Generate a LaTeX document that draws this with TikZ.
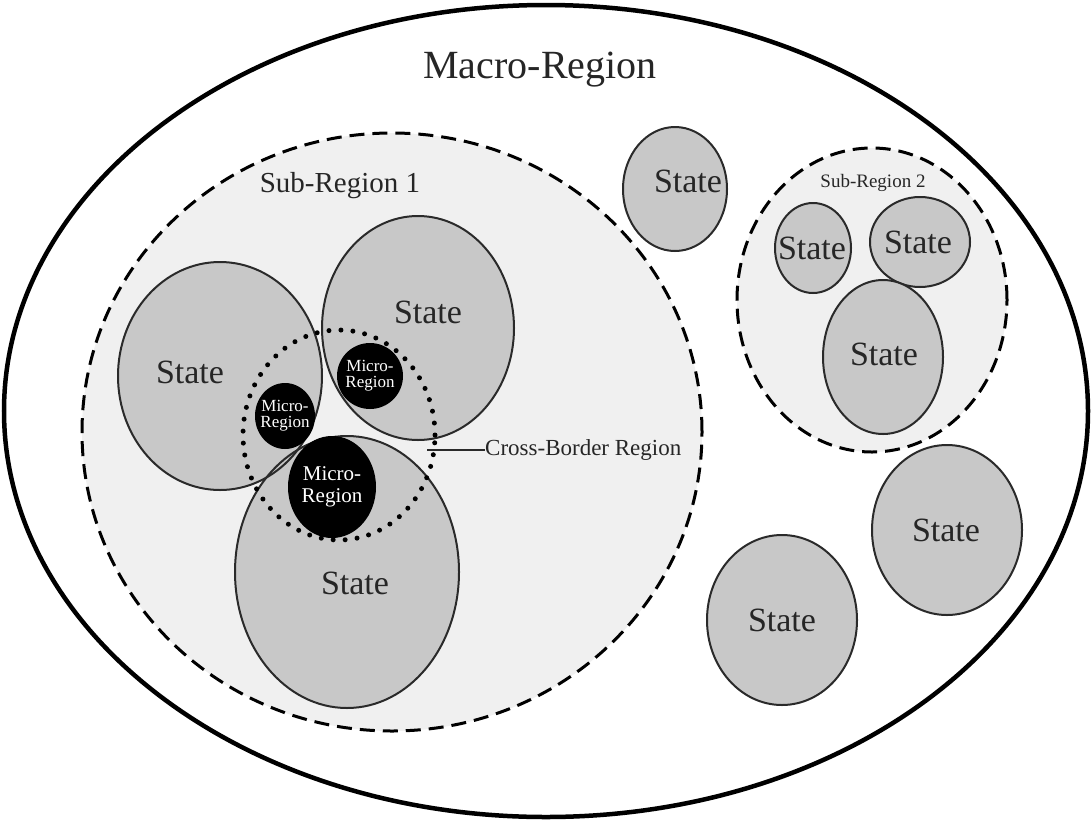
\documentclass[tikz,border=0pt]{standalone}
\usepackage{fontspec}
\setmainfont{Liberation Serif}
\usetikzlibrary{shapes.geometric}
\definecolor{statefill}{HTML}{C8C8C8}
\definecolor{subfill}{HTML}{F0F0F0}
\definecolor{edge}{HTML}{2A2A2A}
\tikzset{
  region/.style={ellipse,inner sep=0pt,outer sep=0pt},
  statebox/.style={region,fill=statefill},
  stateline/.style={region,draw=edge,line width=2pt},
  subreg/.style={region,fill=subfill,draw=black,line width=3pt,dash pattern=on 15pt off 8pt},
  microreg/.style={region,fill=black},
  lab/.style={inner sep=0pt,text=black!85},
  microlab/.style={inner sep=0pt,text=white,align=center,font=\fontsize{17}{16}\selectfont},
}
\begin{document}
\begin{tikzpicture}[x=1pt,y=-1pt]
\useasboundingbox (0,0) rectangle (1092,825);
\fill[white] (0,0) rectangle (1092,825);
% macro region
\node[region,draw=black,line width=4.5pt,minimum width=1084pt,minimum height=812pt] (macro) at (546,411) {};
\node[lab,font=\fontsize{40}{40}\selectfont] (macrolab) at (540,70) {Macro-Region};
% sub-region 1
\node[subreg,minimum width=620pt,minimum height=598pt] (sub1) at (392,432) {};
\node[lab,font=\fontsize{29}{29}\selectfont] (sub1lab) at (340,186) {Sub-Region 1};
% states of sub-region 1 (fills)
\node[statebox,minimum width=204pt,minimum height=228pt] (s1) at (220,376) {};
\node[statebox,minimum width=192pt,minimum height=224pt] (s2) at (418,328) {};
\node[statebox,minimum width=224pt,minimum height=272pt] (s3) at (347,572) {};
% outlines
\node[stateline,minimum width=204pt,minimum height=228pt] (s1o) at (220,376) {};
\node[stateline,minimum width=192pt,minimum height=224pt] (s2o) at (418,328) {};
\node[stateline,minimum width=224pt,minimum height=272pt] (s3o) at (347,572) {};
\node[lab,font=\fontsize{34}{34}\selectfont] (s1lab) at (190,372) {State};
\node[lab,font=\fontsize{34}{34}\selectfont] (s2lab) at (428,312) {State};
\node[lab,font=\fontsize{34}{34}\selectfont] (s3lab) at (355,583) {State};
% cross-border region
\node[region,draw=black,line width=5pt,line cap=round,dash pattern=on 0pt off 12pt,minimum width=192pt,minimum height=210pt] (cb) at (339,435) {};
% micro-regions
\node[microreg,minimum width=66pt,minimum height=66pt] (m1) at (370,376) {};
\node[microlab] (m1lab) at (370,376) {Micro-\\Region};
\node[microreg,minimum width=60pt,minimum height=66pt] (m2) at (285,416) {};
\node[microlab] (m2lab) at (285,416) {Micro-\\Region};
\node[microreg,minimum width=88pt,minimum height=102pt] (m3) at (332,487) {};
\node[microlab,font=\fontsize{21}{22}\selectfont] (m3lab) at (332,487) {Micro-\\Region};
% cross-border label
\coordinate (cbpt) at (427,450);
\node[lab,anchor=west,font=\fontsize{23}{23}\selectfont] (cblab) at (485,450) {Cross-Border Region};
\draw[edge,line width=2pt] (cbpt) -- (cblab.west);
% lone states
\node[statebox,draw=edge,line width=2pt,minimum width=104pt,minimum height=124pt] (s4) at (675,189) {};
\node[lab,font=\fontsize{34}{34}\selectfont] (s4lab) at (688,181) {State};
\node[statebox,draw=edge,line width=2pt,minimum width=150pt,minimum height=170pt] (s5) at (947,530) {};
\node[lab,font=\fontsize{34}{34}\selectfont] (s5lab) at (946,530) {State};
\node[statebox,draw=edge,line width=2pt,minimum width=150pt,minimum height=170pt] (s6) at (782,620) {};
\node[lab,font=\fontsize{34}{34}\selectfont] (s6lab) at (782,620) {State};
% sub-region 2
\node[subreg,minimum width=270pt,minimum height=304pt] (sub2) at (872,300) {};
\node[lab,font=\fontsize{19}{19}\selectfont] (sub2lab) at (873,183) {Sub-Region 2};
\node[statebox,draw=edge,line width=2pt,minimum width=76pt,minimum height=90pt] (s7) at (813,248) {};
\node[lab,font=\fontsize{34}{34}\selectfont] (s7lab) at (812,248) {State};
\node[statebox,draw=edge,line width=2pt,minimum width=100pt,minimum height=90pt] (s8) at (920,242) {};
\node[lab,font=\fontsize{34}{34}\selectfont] (s8lab) at (918,242) {State};
\node[statebox,draw=edge,line width=2pt,minimum width=120pt,minimum height=154pt] (s9) at (883,357) {};
\node[lab,font=\fontsize{34}{34}\selectfont] (s9lab) at (884,354) {State};
\end{tikzpicture}
\end{document}
